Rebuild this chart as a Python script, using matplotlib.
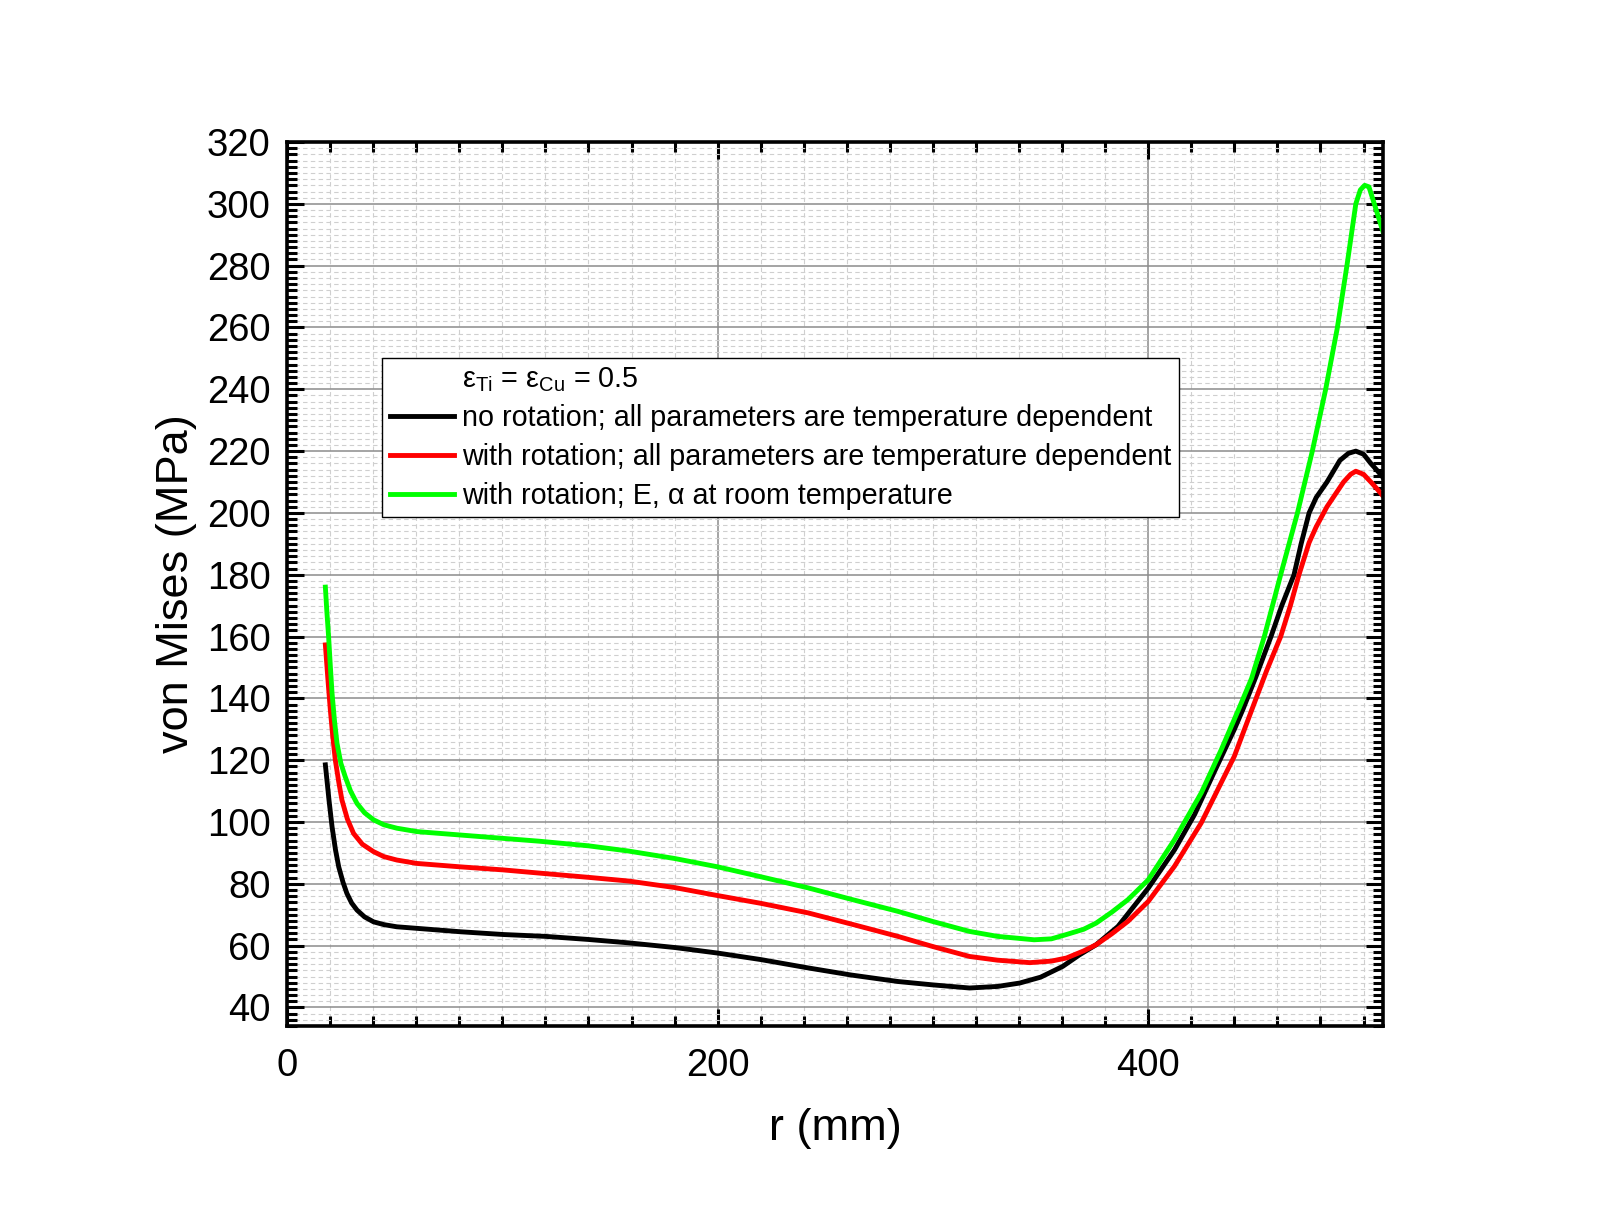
import matplotlib
matplotlib.use("Agg")
import matplotlib.pyplot as plt
from matplotlib.lines import Line2D
from matplotlib.ticker import MultipleLocator

plt.rcParams['font.family'] = ['Liberation Sans', 'DejaVu Sans']
plt.rcParams['mathtext.fontset'] = 'custom'
plt.rcParams['mathtext.rm'] = 'Liberation Sans'
plt.rcParams['mathtext.it'] = 'Liberation Sans:italic'

# no rotation; all parameters temperature dependent
r_black = [17.8, 19.5, 20.9, 22.5, 24, 26, 27.8, 30, 32.5, 36, 40.2, 45, 51, 60.3,
           80.4, 100.5, 120, 140, 158.7, 180, 200, 220, 242, 262, 283.7, 300, 317,
           330, 340.3, 350, 360.3, 368, 375.8, 385.9, 400, 412.2, 421.5, 430.8, 440,
           444, 450, 457, 462, 467.7, 471, 474.7, 478, 483, 489, 493, 496.4, 500,
           503.4, 506, 509]
s_black = [118.5, 107, 98.5, 91, 85.5, 80.5, 76.9, 73.8, 71.5, 69.3, 67.7, 66.8, 66.1, 65.6,
           64.5, 63.6, 63.0, 62.0, 60.9, 59.4, 57.6, 55.5, 52.8, 50.5, 48.4, 47.3, 46.3,
           46.8, 47.9, 49.8, 53.3, 57, 60.3, 66.2, 78.6, 91, 102.4, 116.4, 130,
           136.5, 147, 160, 170, 180, 190, 200, 205, 210, 217, 219.3, 220, 219,
           216, 214, 211.5]

# with rotation; all parameters temperature dependent
r_red = [17.8, 19, 20.1, 21.2, 22.4, 24, 25.5, 28, 30.9, 35, 40.2, 45, 51, 60.3,
         80.4, 100.5, 120, 140, 158.7, 180, 200, 220, 242, 262, 283.7, 300, 317,
         330, 345, 355, 362, 370, 375.8, 383, 390.6, 400, 412.2, 424.6, 440, 449,
         455, 461.5, 466, 470, 474.7, 478, 483, 490.7, 494, 496.4, 500, 503.4, 506, 509]
s_red = [157.3, 146, 136.3, 128, 120.1, 113, 107.1, 101, 96.3, 92.8, 90.4, 88.8, 87.7, 86.6,
         85.5, 84.5, 83.3, 82.1, 80.9, 78.8, 76.2, 73.7, 70.6, 67, 63, 59.7, 56.5,
         55.3, 54.5, 55, 56, 58.3, 60.3, 63.8, 67.9, 74.3, 85.7, 99.7, 121.3, 138,
         149, 160, 170, 180, 190.4, 195.5, 202, 210, 212.5, 213.5, 212.5, 210, 208, 205.5]

# with rotation; E, alpha at room temperature
r_green = [17.8, 18.5, 19.3, 20.1, 20.9, 22, 23.2, 25, 27, 29.5, 32.5, 36, 40.2, 45, 51,
           60.3, 80.4, 100.5, 117, 140, 158.7, 180, 200, 220, 242, 262, 283.7, 300, 317,
           330, 347, 355, 362, 370, 375.8, 383, 390.6, 400, 412.2, 424.6, 433.9, 442.3,
           448, 453.9, 461.5, 469.3, 476.2, 482.4, 487.8, 492.4, 496.4, 498.5, 500.5,
           502.5, 505, 509]
s_green = [176, 168, 160, 150.5, 141.7, 133, 125.5, 119, 114.7, 110, 106, 103, 100.7, 99.1, 98,
           96.9, 95.8, 94.7, 93.8, 92.3, 90.6, 88.2, 85.5, 82.3, 78.7, 75, 71.1, 67.8, 64.6,
           63, 61.9, 62.2, 63.6, 65.3, 67.3, 70.8, 74.9, 81.3, 94.3, 109.4, 123.4, 137,
           146.5, 160, 180, 200, 220, 240, 259.8, 280.6, 300, 304.5, 306,
           305.5, 300, 291]

labels = ["no rotation; all parameters are temperature dependent",
          "with rotation; all parameters are temperature dependent",
          "with rotation; E, \u03b1 at room temperature"]
header = "\u03b5$_{\\rm Ti}$ = \u03b5$_{\\rm Cu}$ = 0.5"

fig = plt.figure(figsize=(16.09, 12.32), dpi=100)
ax = fig.add_axes([0.1784, 0.1672, 0.6811, 0.7175])

ax.plot(r_black, s_black, color='black', lw=3.5)
ax.plot(r_red, s_red, color='#ff0000', lw=3.5)
ax.plot(r_green, s_green, color='#00ff00', lw=3.5)

ax.set_xlim(0, 509)
ax.set_ylim(34, 320)
ax.xaxis.set_major_locator(MultipleLocator(200))
ax.xaxis.set_minor_locator(MultipleLocator(20))
ax.yaxis.set_major_locator(MultipleLocator(20))
ax.yaxis.set_minor_locator(MultipleLocator(2))

ax.grid(which='major', color='#8c8c8c', lw=1.1, ls='-')
ax.grid(which='minor', color='#cfcfcf', lw=0.8, ls=(0, (4, 3)))
ax.set_axisbelow(True)

ax.tick_params(which='both', direction='in', top=True, right=True, width=2.2)
ax.tick_params(which='major', length=12.5, labelsize=27.5)
ax.tick_params(axis='x', which='major', pad=16)
ax.tick_params(axis='y', which='major', pad=12)
ax.tick_params(which='minor', length=7)
for sp in ax.spines.values():
    sp.set_linewidth(2.6)

ax.set_xlabel("r (mm)", fontsize=32.5)
ax.set_ylabel("von Mises (MPa)", fontsize=32.5)
ax.xaxis.set_label_coords(0.5, -0.1165)
ax.xaxis.label.set_va('center')
ax.yaxis.set_label_coords(-0.101, 0.5)
ax.yaxis.label.set_va('center')

handles = [Line2D([], [], color='none'),
           Line2D([], [], color='black', lw=3.5),
           Line2D([], [], color='#ff0000', lw=3.5),
           Line2D([], [], color='#00ff00', lw=3.5)]
leg = ax.legend(handles, [header] + labels, loc='upper left',
                bbox_to_anchor=(0.2377, 0.7098), bbox_transform=fig.transFigure,
                fontsize=20.7, frameon=True, fancybox=False, framealpha=1,
                edgecolor='black', borderpad=0.25, borderaxespad=0,
                handlelength=2.25, handletextpad=0.28, labelspacing=0.38)
leg.get_frame().set_linewidth(1.0)

fig.savefig("out.png", dpi=100)
